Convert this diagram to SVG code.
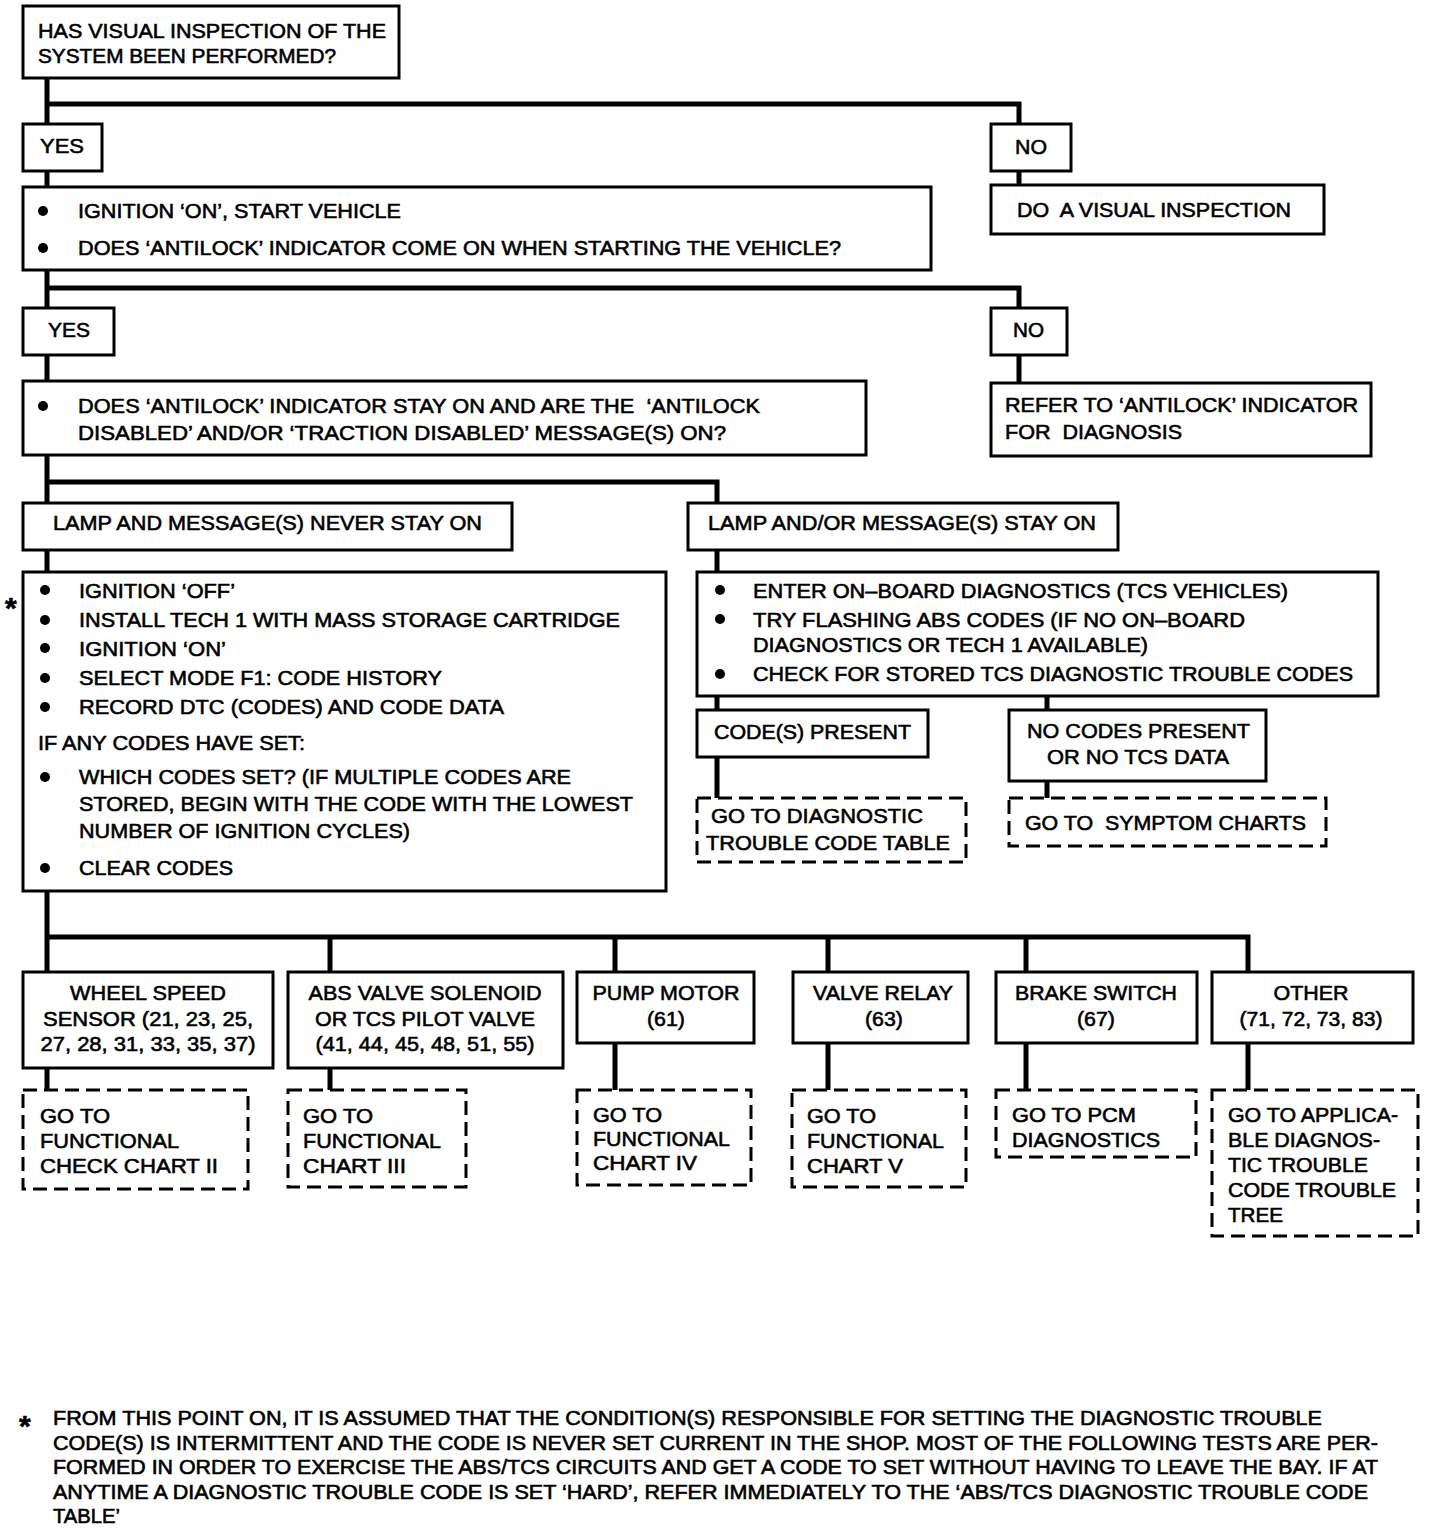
<svg xmlns="http://www.w3.org/2000/svg" width="1440" height="1530" viewBox="0 0 1440 1530">
<style>
.box{fill:#fff;stroke:#000;stroke-width:3}
.dash{fill:#fff;stroke:#000;stroke-width:3;stroke-dasharray:14 7}
.conn path{fill:none;stroke:#000;stroke-width:5}
text{font-family:"Liberation Sans",Arial,Helvetica,sans-serif;font-size:21px;fill:#000;stroke:#000;stroke-width:0.6}
.c{text-anchor:middle}
.fn{font-size:20px}
.ast{font-size:30px;font-weight:bold}
</style>
<defs>
<circle id="b" r="5" fill="#000"/>
</defs>
<rect width="1440" height="1530" fill="#fff"/>
<g class="conn" id="connectors">
<path d="M47 78V124M47 104H1019V124"/>
<path d="M1019 171V185"/>
<path d="M47 171V187"/>
<path d="M47 270V308M47 288H1019V308"/>
<path d="M1019 355V383"/>
<path d="M47 355V381"/>
<path d="M47 455V503M47 482H717V503"/>
<path d="M47 550V572"/>
<path d="M717 550V572"/>
<path d="M717 696V710M1047 696V710"/>
<path d="M717 757V798M1047 781V798"/>
<path d="M47 891V972M47 937H1248V972M330 937V972M615 937V972M828 937V972M1026 937V972"/>
<path d="M47 1068V1090M330 1068V1090M615 1043V1090M828 1043V1090M1026 1043V1090M1248 1043V1090"/>
</g>
<g id="n_visual">
<rect class="box" x="23" y="6" width="376" height="72"/>
<text x="38" y="38" textLength="348" lengthAdjust="spacingAndGlyphs">HAS VISUAL INSPECTION OF THE</text>
<text x="38" y="63" textLength="298" lengthAdjust="spacingAndGlyphs">SYSTEM BEEN PERFORMED?</text>
</g>
<g id="n_yes1">
<rect class="box" x="23" y="124" width="79" height="47"/>
<text x="40" y="153" textLength="44" lengthAdjust="spacingAndGlyphs">YES</text>
</g>
<g id="n_no1">
<rect class="box" x="991" y="124" width="80" height="47"/>
<text x="1015" y="154" textLength="32" lengthAdjust="spacingAndGlyphs">NO</text>
</g>
<g id="n_do_visual">
<rect class="box" x="991" y="185" width="333" height="49"/>
<text x="1017" y="217" textLength="274" lengthAdjust="spacingAndGlyphs" xml:space="preserve">DO  A VISUAL INSPECTION</text>
</g>
<g id="n_ignition">
<rect class="box" x="23" y="187" width="908" height="83"/>
<use href="#b" x="43" y="211"/>
<use href="#b" x="43" y="248"/>
<text x="78" y="218" textLength="323" lengthAdjust="spacingAndGlyphs">IGNITION ‘ON’, START VEHICLE</text>
<text x="78" y="255" textLength="763" lengthAdjust="spacingAndGlyphs">DOES ‘ANTILOCK’ INDICATOR COME ON WHEN STARTING THE VEHICLE?</text>
</g>
<g id="n_yes2">
<rect class="box" x="23" y="308" width="91" height="47"/>
<text x="48" y="337" textLength="42" lengthAdjust="spacingAndGlyphs">YES</text>
</g>
<g id="n_no2">
<rect class="box" x="991" y="308" width="76" height="47"/>
<text x="1013" y="337" textLength="31" lengthAdjust="spacingAndGlyphs">NO</text>
</g>
<g id="n_refer">
<rect class="box" x="991" y="383" width="380" height="73"/>
<text x="1005" y="412" textLength="353" lengthAdjust="spacingAndGlyphs">REFER TO ‘ANTILOCK’ INDICATOR</text>
<text x="1005" y="439" textLength="177" lengthAdjust="spacingAndGlyphs" xml:space="preserve">FOR  DIAGNOSIS</text>
</g>
<g id="n_stay">
<rect class="box" x="23" y="381" width="843" height="74"/>
<use href="#b" x="43" y="406"/>
<text x="78" y="413" textLength="682" lengthAdjust="spacingAndGlyphs" xml:space="preserve">DOES ‘ANTILOCK’ INDICATOR STAY ON AND ARE THE  ‘ANTILOCK</text>
<text x="78" y="440" textLength="648" lengthAdjust="spacingAndGlyphs">DISABLED’ AND/OR ‘TRACTION DISABLED’ MESSAGE(S) ON?</text>
</g>
<g id="n_never">
<rect class="box" x="23" y="503" width="489" height="47"/>
<text x="53" y="530" textLength="429" lengthAdjust="spacingAndGlyphs">LAMP AND MESSAGE(S) NEVER STAY ON</text>
</g>
<g id="n_stayon">
<rect class="box" x="688" y="503" width="430" height="47"/>
<text x="708" y="530" textLength="388" lengthAdjust="spacingAndGlyphs">LAMP AND/OR MESSAGE(S) STAY ON</text>
</g>
<g id="n_history">
<rect class="box" x="23" y="572" width="643" height="319"/>
<use href="#b" x="45" y="590"/>
<use href="#b" x="45" y="620"/>
<use href="#b" x="45" y="648"/>
<use href="#b" x="45" y="678"/>
<use href="#b" x="45" y="707"/>
<use href="#b" x="45" y="777"/>
<use href="#b" x="45" y="868"/>
<text x="79" y="598" textLength="156" lengthAdjust="spacingAndGlyphs">IGNITION ‘OFF’</text>
<text x="79" y="627" textLength="541" lengthAdjust="spacingAndGlyphs">INSTALL TECH 1 WITH MASS STORAGE CARTRIDGE</text>
<text x="79" y="656" textLength="147" lengthAdjust="spacingAndGlyphs">IGNITION ‘ON’</text>
<text x="79" y="685" textLength="363" lengthAdjust="spacingAndGlyphs">SELECT MODE F1: CODE HISTORY</text>
<text x="79" y="714" textLength="425" lengthAdjust="spacingAndGlyphs">RECORD DTC (CODES) AND CODE DATA</text>
<text x="38" y="750" textLength="267" lengthAdjust="spacingAndGlyphs">IF ANY CODES HAVE SET:</text>
<text x="79" y="784" textLength="492" lengthAdjust="spacingAndGlyphs">WHICH CODES SET? (IF MULTIPLE CODES ARE</text>
<text x="79" y="811" textLength="554" lengthAdjust="spacingAndGlyphs">STORED, BEGIN WITH THE CODE WITH THE LOWEST</text>
<text x="79" y="838" textLength="331" lengthAdjust="spacingAndGlyphs">NUMBER OF IGNITION CYCLES)</text>
<text x="79" y="875" textLength="154" lengthAdjust="spacingAndGlyphs">CLEAR CODES</text>
</g>
<text class="ast" x="5" y="618">*</text>
<g id="n_obd">
<rect class="box" x="697" y="572" width="681" height="124"/>
<use href="#b" x="720" y="590"/>
<use href="#b" x="720" y="619"/>
<use href="#b" x="720" y="674"/>
<text x="753" y="598" textLength="535" lengthAdjust="spacingAndGlyphs">ENTER ON–BOARD DIAGNOSTICS (TCS VEHICLES)</text>
<text x="753" y="627" textLength="492" lengthAdjust="spacingAndGlyphs">TRY FLASHING ABS CODES (IF NO ON–BOARD</text>
<text x="753" y="652" textLength="395" lengthAdjust="spacingAndGlyphs">DIAGNOSTICS OR TECH 1 AVAILABLE)</text>
<text x="753" y="681" textLength="600" lengthAdjust="spacingAndGlyphs">CHECK FOR STORED TCS DIAGNOSTIC TROUBLE CODES</text>
</g>
<g id="n_present">
<rect class="box" x="697" y="710" width="231" height="47"/>
<text x="714" y="739" textLength="197" lengthAdjust="spacingAndGlyphs">CODE(S) PRESENT</text>
</g>
<g id="n_nocodes">
<rect class="box" x="1009" y="710" width="257" height="71"/>
<text x="1027" y="738" textLength="223" lengthAdjust="spacingAndGlyphs">NO CODES PRESENT</text>
<text x="1047" y="764" textLength="182" lengthAdjust="spacingAndGlyphs">OR NO TCS DATA</text>
</g>
<g id="n_dtctable">
<rect class="dash" x="697" y="798" width="269" height="64"/>
<text x="711" y="823" textLength="212" lengthAdjust="spacingAndGlyphs">GO TO DIAGNOSTIC</text>
<text x="706" y="850" textLength="244" lengthAdjust="spacingAndGlyphs">TROUBLE CODE TABLE</text>
</g>
<g id="n_symptom">
<rect class="dash" x="1009" y="798" width="317" height="48"/>
<text x="1025" y="830" textLength="281" lengthAdjust="spacingAndGlyphs" xml:space="preserve">GO TO  SYMPTOM CHARTS</text>
</g>
<g id="n_wheel">
<rect class="box" x="23" y="972" width="250" height="96"/>
<text class="c" x="148" y="1000" textLength="156" lengthAdjust="spacingAndGlyphs">WHEEL SPEED</text>
<text class="c" x="148" y="1026" textLength="210" lengthAdjust="spacingAndGlyphs">SENSOR (21, 23, 25,</text>
<text class="c" x="148" y="1051" textLength="215" lengthAdjust="spacingAndGlyphs">27, 28, 31, 33, 35, 37)</text>
</g>
<g id="n_absvalve">
<rect class="box" x="288" y="972" width="275" height="96"/>
<text class="c" x="425" y="1000" textLength="233" lengthAdjust="spacingAndGlyphs">ABS VALVE SOLENOID</text>
<text class="c" x="425" y="1026" textLength="220" lengthAdjust="spacingAndGlyphs">OR TCS PILOT VALVE</text>
<text class="c" x="425" y="1051" textLength="219" lengthAdjust="spacingAndGlyphs">(41, 44, 45, 48, 51, 55)</text>
</g>
<g id="n_pump">
<rect class="box" x="577" y="972" width="177" height="71"/>
<text class="c" x="666" y="1000" textLength="147" lengthAdjust="spacingAndGlyphs">PUMP MOTOR</text>
<text class="c" x="666" y="1026" textLength="38" lengthAdjust="spacingAndGlyphs">(61)</text>
</g>
<g id="n_relay">
<rect class="box" x="793" y="972" width="175" height="71"/>
<text class="c" x="883" y="1000" textLength="140" lengthAdjust="spacingAndGlyphs">VALVE RELAY</text>
<text class="c" x="884" y="1026" textLength="38" lengthAdjust="spacingAndGlyphs">(63)</text>
</g>
<g id="n_brake">
<rect class="box" x="996" y="972" width="201" height="71"/>
<text class="c" x="1096" y="1000" textLength="162" lengthAdjust="spacingAndGlyphs">BRAKE SWITCH</text>
<text class="c" x="1096" y="1026" textLength="38" lengthAdjust="spacingAndGlyphs">(67)</text>
</g>
<g id="n_other">
<rect class="box" x="1212" y="972" width="201" height="71"/>
<text class="c" x="1311" y="1000" textLength="75" lengthAdjust="spacingAndGlyphs">OTHER</text>
<text class="c" x="1311" y="1026" textLength="143" lengthAdjust="spacingAndGlyphs">(71, 72, 73, 83)</text>
</g>
<g id="n_chart2">
<rect class="dash" x="23" y="1090" width="225" height="99"/>
<text x="40" y="1123" textLength="70" lengthAdjust="spacingAndGlyphs">GO TO</text>
<text x="40" y="1148" textLength="139" lengthAdjust="spacingAndGlyphs">FUNCTIONAL</text>
<text x="40" y="1173" textLength="178" lengthAdjust="spacingAndGlyphs">CHECK CHART II</text>
</g>
<g id="n_chart3">
<rect class="dash" x="288" y="1090" width="178" height="97"/>
<text x="303" y="1123" textLength="70" lengthAdjust="spacingAndGlyphs">GO TO</text>
<text x="303" y="1148" textLength="138" lengthAdjust="spacingAndGlyphs">FUNCTIONAL</text>
<text x="303" y="1173" textLength="103" lengthAdjust="spacingAndGlyphs">CHART III</text>
</g>
<g id="n_chart4">
<rect class="dash" x="577" y="1090" width="174" height="95"/>
<text x="593" y="1122" textLength="69" lengthAdjust="spacingAndGlyphs">GO TO</text>
<text x="593" y="1146" textLength="137" lengthAdjust="spacingAndGlyphs">FUNCTIONAL</text>
<text x="593" y="1170" textLength="104" lengthAdjust="spacingAndGlyphs">CHART IV</text>
</g>
<g id="n_chart5">
<rect class="dash" x="792" y="1090" width="174" height="97"/>
<text x="807" y="1123" textLength="69" lengthAdjust="spacingAndGlyphs">GO TO</text>
<text x="807" y="1148" textLength="137" lengthAdjust="spacingAndGlyphs">FUNCTIONAL</text>
<text x="807" y="1173" textLength="96" lengthAdjust="spacingAndGlyphs">CHART V</text>
</g>
<g id="n_pcm">
<rect class="dash" x="996" y="1090" width="200" height="67"/>
<text x="1012" y="1122" textLength="124" lengthAdjust="spacingAndGlyphs">GO TO PCM</text>
<text x="1012" y="1147" textLength="148" lengthAdjust="spacingAndGlyphs">DIAGNOSTICS</text>
</g>
<g id="n_tree">
<rect class="dash" x="1212" y="1090" width="206" height="146"/>
<text x="1228" y="1122" textLength="170" lengthAdjust="spacingAndGlyphs">GO TO APPLICA-</text>
<text x="1228" y="1147" textLength="152" lengthAdjust="spacingAndGlyphs">BLE DIAGNOS-</text>
<text x="1228" y="1172" textLength="140" lengthAdjust="spacingAndGlyphs">TIC TROUBLE</text>
<text x="1228" y="1197" textLength="168" lengthAdjust="spacingAndGlyphs">CODE TROUBLE</text>
<text x="1228" y="1222" textLength="55" lengthAdjust="spacingAndGlyphs">TREE</text>
</g>
<g id="footnote">
<text class="ast" x="19" y="1436">*</text>
<text class="fn" x="53" y="1425" textLength="1269" lengthAdjust="spacingAndGlyphs">FROM THIS POINT ON, IT IS ASSUMED THAT THE CONDITION(S) RESPONSIBLE FOR SETTING THE DIAGNOSTIC TROUBLE</text>
<text class="fn" x="53" y="1450" textLength="1325" lengthAdjust="spacingAndGlyphs">CODE(S) IS INTERMITTENT AND THE CODE IS NEVER SET CURRENT IN THE SHOP. MOST OF THE FOLLOWING TESTS ARE PER-</text>
<text class="fn" x="53" y="1474" textLength="1325" lengthAdjust="spacingAndGlyphs">FORMED IN ORDER TO EXERCISE THE ABS/TCS CIRCUITS AND GET A CODE TO SET WITHOUT HAVING TO LEAVE THE BAY. IF AT</text>
<text class="fn" x="53" y="1499" textLength="1315" lengthAdjust="spacingAndGlyphs">ANYTIME A DIAGNOSTIC TROUBLE CODE IS SET ‘HARD’, REFER IMMEDIATELY TO THE ‘ABS/TCS DIAGNOSTIC TROUBLE CODE</text>
<text class="fn" x="53" y="1523" textLength="67" lengthAdjust="spacingAndGlyphs">TABLE’</text>
</g>
</svg>
